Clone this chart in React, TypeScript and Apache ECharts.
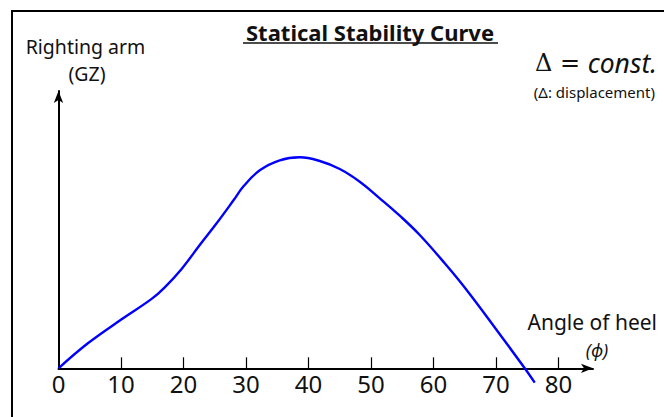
import React, { useEffect, useRef } from "react";
import * as echarts from "echarts";

const angles = [0, 4.7, 10.1, 14.9, 17.0, 19.7, 22.6, 25.3, 28.0, 29.6, 32.2, 35.4, 38.6, 41.8, 45.0, 48.2, 51.4, 54.6, 57.8, 61.8, 65.3, 70.1, 74.6, 76.2];
const gz = [0, 0.25, 0.49, 0.694, 0.81, 0.994, 1.233, 1.45, 1.68, 1.82, 1.98, 2.08, 2.11, 2.073, 1.993, 1.866, 1.7, 1.526, 1.333, 1.05, 0.783, 0.383, 0, -0.144];
const tickLabels = [0, 10, 20, 30, 40, 50, 60, 70, 80];
const tickMarks = [10, 20, 30, 40, 50, 60, 70, 80];

const FONT = "'Noto Sans', 'Open Sans', sans-serif";

export default function App() {
  const ref = useRef<HTMLDivElement>(null);
  useEffect(() => {
    if (!ref.current) return;
    const chart = echarts.init(ref.current, null, { renderer: "svg" });
    chart.setOption({
      animation: false,
      backgroundColor: "#ffffff",
      grid: { left: 58.5, right: 71, top: 91, bottom: 48.7, containLabel: false },
      xAxis: {
        type: "value",
        min: 0,
        max: 85.52,
        interval: 10,
        splitLine: { show: false },
        axisLine: {
          show: true,
          lineStyle: { color: "#000", width: 2 },
          symbol: ["none", "arrow"],
          symbolSize: [7, 12],
        },
        axisTick: {
          show: true,
          inside: true,
          length: 11,
          lineStyle: { color: "#000", width: 1.2 },
          customValues: tickMarks,
        },
        axisLabel: {
          show: true,
          customValues: tickLabels,
          color: "#111",
          fontSize: 24,
          fontFamily: FONT,
          margin: 3,
        },
      },
      yAxis: {
        type: "value",
        min: 0,
        max: 2.773,
        splitLine: { show: false },
        axisLabel: { show: false },
        axisTick: { show: false },
        axisLine: {
          show: true,
          onZero: false,
          lineStyle: { color: "#000", width: 2 },
          symbol: ["none", "arrow"],
          symbolSize: [7, 12],
        },
      },
      series: [
        {
          type: "line",
          data: angles.map((a, i) => [a, gz[i]]),
          smooth: 0.4,
          showSymbol: false,
          clip: false,
          lineStyle: { color: "#0000ff", width: 2.4 },
        },
      ],
      graphic: [
        {
          type: "rect",
          shape: { x: 12, y: 11, width: 700, height: 500 },
          style: { fill: "none", stroke: "#000", lineWidth: 2 },
          silent: true,
        },
        {
          type: "text",
          x: 370,
          y: 32,
          style: {
            text: "Statical Stability Curve",
            font: `bold 22px ${FONT}`,
            fill: "#111",
            align: "center",
            verticalAlign: "middle",
          },
        },
        {
          type: "line",
          shape: { x1: 243, y1: 43, x2: 498, y2: 43 },
          style: { stroke: "#111", lineWidth: 1.5 },
        },
        {
          type: "text",
          x: 85.5,
          y: 46,
          style: {
            text: "Righting arm",
            fontSize: 19.5,
            fontFamily: FONT,
            fill: "#111",
            align: "center",
            verticalAlign: "middle",
          },
        },
        {
          type: "text",
          x: 87,
          y: 73,
          style: {
            text: "(GZ)",
            fontSize: 19.5,
            fontFamily: FONT,
            fill: "#111",
            align: "center",
            verticalAlign: "middle",
          },
        },
        {
          type: "text",
          x: 657,
          y: 63,
          style: {
            text: "{a|Δ = }{b|const.}",
            align: "right",
            verticalAlign: "middle",
            rich: {
              a: { fontSize: 24, fontFamily: "'DejaVu Serif', serif", fill: "#111" },
              b: { fontSize: 26.5, fontStyle: "italic", fontFamily: FONT, fill: "#111" },
            },
          },
        },
        {
          type: "text",
          x: 655,
          y: 92,
          style: {
            text: "(Δ: displacement)",
            fontSize: 15,
            fontFamily: FONT,
            fill: "#111",
            align: "right",
            verticalAlign: "middle",
          },
        },
        {
          type: "text",
          x: 657,
          y: 322,
          style: {
            text: "Angle of heel",
            fontSize: 21,
            fontFamily: FONT,
            fill: "#111",
            align: "right",
            verticalAlign: "middle",
          },
        },
        {
          type: "text",
          x: 597,
          y: 350,
          style: {
            text: "(ϕ)",
            fontSize: 18,
            fontStyle: "italic",
            fontFamily: FONT,
            fill: "#111",
            align: "center",
            verticalAlign: "middle",
          },
        },
      ],
    });
    return () => chart.dispose();
  }, []);
  return <div ref={ref} style={{ width: 664, height: 417, position: "absolute", left: 0, top: 0 }} />;
}
